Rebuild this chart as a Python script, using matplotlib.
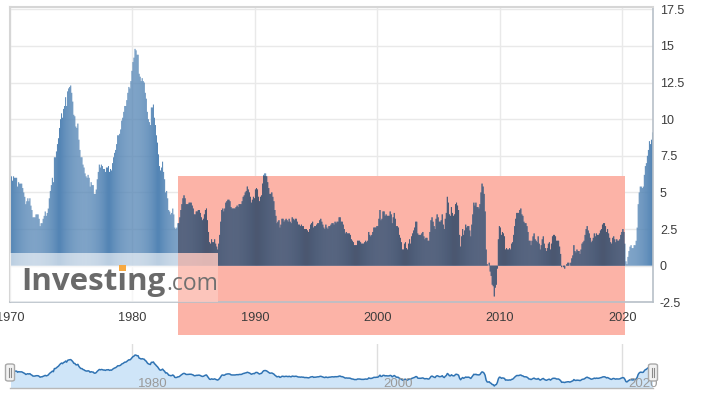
import matplotlib
matplotlib.use("Agg")
import matplotlib.pyplot as plt
import numpy as np
from matplotlib.patches import Rectangle, FancyBboxPatch
import matplotlib.transforms as mtransforms

# ---------------- data: US CPI, year-over-year %, monthly from Jan 1970 ----------------
start_year = 1970
cpi_yoy = [
    6.2, 6.1, 5.8, 6.1, 6.0, 6.0, 6.0, 5.4, 5.7, 5.6, 5.6, 5.6,   # 1970
    5.3, 5.0, 4.7, 4.2, 4.4, 4.6, 4.4, 4.6, 4.1, 3.8, 3.3, 3.3,   # 1971
    3.3, 3.5, 3.5, 3.5, 3.2, 2.7, 2.9, 2.9, 3.2, 3.4, 3.7, 3.4,   # 1972
    3.6, 3.9, 4.6, 5.1, 5.5, 6.0, 5.7, 7.4, 7.4, 7.8, 8.3, 8.7,   # 1973
    9.4, 10.0, 10.4, 10.1, 10.7, 10.9, 11.5, 10.9, 11.9, 12.1, 12.2, 12.3,  # 1974
    11.8, 11.2, 10.3, 10.2, 9.5, 9.4, 9.7, 8.6, 7.9, 7.4, 7.4, 6.9,  # 1975
    6.7, 6.3, 6.1, 6.0, 6.2, 6.0, 5.4, 5.7, 5.5, 5.5, 4.9, 4.9,   # 1976
    5.2, 5.9, 6.4, 6.9, 6.7, 6.9, 6.8, 6.6, 6.6, 6.4, 6.7, 6.7,   # 1977
    6.8, 6.4, 6.6, 6.5, 7.0, 7.4, 7.7, 7.9, 8.3, 8.9, 8.9, 9.0,   # 1978
    9.3, 9.9, 10.1, 10.5, 10.9, 10.9, 11.3, 11.8, 12.2, 12.1, 12.6, 13.3,  # 1979
    13.9, 14.2, 14.8, 14.7, 14.4, 14.4, 13.1, 12.9, 12.6, 12.8, 12.6, 12.5,  # 1980
    11.8, 11.4, 10.5, 10.0, 9.8, 9.6, 10.8, 10.8, 11.0, 10.1, 9.6, 8.9,  # 1981
    8.4, 7.6, 6.8, 6.5, 6.7, 7.1, 6.4, 5.9, 5.0, 5.1, 4.6, 3.8,   # 1982
    3.7, 3.5, 3.6, 3.9, 3.5, 2.6, 2.5, 2.6, 2.9, 2.9, 3.3, 3.8,   # 1983
    4.2, 4.6, 4.8, 4.6, 4.2, 4.2, 4.2, 4.3, 4.3, 4.3, 4.1, 3.9,   # 1984
    3.5, 3.5, 3.7, 3.7, 3.8, 3.8, 3.6, 3.3, 3.1, 3.2, 3.5, 3.8,   # 1985
    3.9, 3.1, 2.3, 1.6, 1.5, 1.8, 1.6, 1.6, 1.8, 1.5, 1.3, 1.1,   # 1986
    1.5, 2.1, 3.0, 3.8, 3.9, 3.7, 3.9, 4.3, 4.4, 4.5, 4.5, 4.4,   # 1987
    4.0, 3.9, 3.9, 3.9, 3.9, 4.0, 4.1, 4.0, 4.2, 4.2, 4.2, 4.4,   # 1988
    4.7, 4.8, 5.0, 5.1, 5.4, 5.2, 5.0, 4.7, 4.3, 4.5, 4.7, 4.6,   # 1989
    5.2, 5.3, 5.2, 4.7, 4.4, 4.7, 4.8, 5.6, 6.2, 6.3, 6.3, 6.1,   # 1990
    5.7, 5.3, 4.9, 4.9, 5.0, 4.7, 4.4, 3.8, 3.4, 2.9, 3.0, 3.1,   # 1991
    2.6, 2.8, 3.2, 3.2, 3.0, 3.1, 3.2, 3.1, 3.0, 3.2, 3.0, 2.9,   # 1992
    3.3, 3.2, 3.1, 3.2, 3.2, 3.0, 2.8, 2.8, 2.7, 2.8, 2.7, 2.7,   # 1993
    2.5, 2.5, 2.5, 2.4, 2.3, 2.5, 2.8, 2.9, 3.0, 2.6, 2.7, 2.7,   # 1994
    2.8, 2.9, 2.9, 3.1, 3.2, 3.0, 2.8, 2.6, 2.5, 2.8, 2.6, 2.5,   # 1995
    2.7, 2.7, 2.8, 2.9, 2.9, 2.8, 3.0, 2.9, 3.0, 3.0, 3.3, 3.3,   # 1996
    3.0, 3.0, 2.8, 2.5, 2.2, 2.3, 2.2, 2.2, 2.2, 2.1, 1.8, 1.7,   # 1997
    1.6, 1.4, 1.4, 1.4, 1.7, 1.7, 1.7, 1.6, 1.5, 1.5, 1.5, 1.6,   # 1998
    1.7, 1.6, 1.7, 2.3, 2.1, 2.0, 2.1, 2.3, 2.6, 2.6, 2.6, 2.7,   # 1999
    2.7, 3.2, 3.8, 3.1, 3.2, 3.7, 3.7, 3.4, 3.5, 3.4, 3.4, 3.4,   # 2000
    3.7, 3.5, 2.9, 3.3, 3.6, 3.2, 2.7, 2.7, 2.6, 2.1, 1.9, 1.6,   # 2001
    1.1, 1.1, 1.5, 1.6, 1.2, 1.1, 1.5, 1.8, 1.5, 2.0, 2.2, 2.4,   # 2002
    2.6, 3.0, 3.0, 2.2, 2.1, 2.1, 2.1, 2.2, 2.3, 2.0, 1.8, 1.9,   # 2003
    1.9, 1.7, 1.7, 2.3, 3.1, 3.3, 3.0, 2.7, 2.5, 3.2, 3.5, 3.3,   # 2004
    3.0, 3.0, 3.1, 3.5, 2.8, 2.5, 3.2, 3.6, 4.7, 4.3, 3.5, 3.4,   # 2005
    4.0, 3.6, 3.4, 3.5, 4.2, 4.3, 4.1, 3.8, 2.1, 1.3, 2.0, 2.5,   # 2006
    2.1, 2.4, 2.8, 2.6, 2.7, 2.7, 2.4, 2.0, 2.8, 3.5, 4.3, 4.1,   # 2007
    4.3, 4.0, 4.0, 3.9, 4.2, 5.0, 5.6, 5.4, 4.9, 3.7, 1.1, 0.1,   # 2008
    0.0, 0.2, -0.4, -0.7, -1.3, -1.4, -2.1, -1.5, -1.3, -0.2, 1.8, 2.7,  # 2009
    2.6, 2.1, 2.3, 2.2, 2.0, 1.1, 1.2, 1.1, 1.1, 1.2, 1.1, 1.5,   # 2010
    1.6, 2.1, 2.7, 3.2, 3.6, 3.6, 3.6, 3.8, 3.9, 3.5, 3.4, 3.0,   # 2011
    2.9, 2.9, 2.7, 2.3, 1.7, 1.7, 1.4, 1.7, 2.0, 2.2, 1.8, 1.7,   # 2012
    1.6, 2.0, 1.5, 1.1, 1.4, 1.8, 2.0, 1.5, 1.2, 1.0, 1.2, 1.5,   # 2013
    1.6, 1.1, 1.5, 2.0, 2.1, 2.1, 2.0, 1.7, 1.7, 1.7, 1.3, 0.8,   # 2014
    -0.1, 0.0, -0.1, -0.2, 0.0, 0.1, 0.2, 0.2, 0.0, 0.2, 0.5, 0.7,  # 2015
    1.4, 1.0, 0.9, 1.1, 1.0, 1.0, 0.8, 1.1, 1.5, 1.6, 1.7, 2.1,   # 2016
    2.5, 2.7, 2.4, 2.2, 1.9, 1.6, 1.7, 1.9, 2.2, 2.0, 2.2, 2.1,   # 2017
    2.1, 2.2, 2.4, 2.5, 2.8, 2.9, 2.9, 2.7, 2.3, 2.5, 2.2, 1.9,   # 2018
    1.6, 1.5, 1.9, 2.0, 1.8, 1.6, 1.8, 1.7, 1.7, 1.8, 2.1, 2.3,   # 2019
    2.5, 2.3, 1.5, 0.3, 0.1, 0.6, 1.0, 1.3, 1.4, 1.2, 1.2, 1.4,   # 2020
    1.4, 1.7, 2.6, 4.2, 5.0, 5.4, 5.4, 5.3, 5.4, 6.2, 6.8, 7.0,   # 2021
    7.5, 7.9, 8.5, 8.3, 8.6, 9.1,                                 # 2022
]
y_ticks = [-2.5, 0, 2.5, 5, 7.5, 10, 12.5, 15, 17.5]
y_tick_labels = ["-2.5", "0", "2.5", "5", "7.5", "10", "12.5", "15", "17.5"]
x_ticks = [1970, 1980, 1990, 2000, 2010, 2020]
x_tick_labels = ["1970", "1980", "1990", "2000", "2010", "2020"]
nav_ticks = [1980, 2000, 2020]
nav_tick_labels = ["1980", "2000", "2020"]
highlight_span = (1983.70, 2020.24)   # shaded box, years
highlight_top = 6.15

# ---------------- styling ----------------
W, H = 704, 396
BLUE = "#5485b5"
SALMON = np.array([252, 179, 167]) / 255.0
blue_rgb = np.array(matplotlib.colors.to_rgb("#4c7cab"))
DARK = tuple(blue_rgb * SALMON)          # multiply-blend of bar and salmon box
GRID = "#e9e9e9"
TXT = "#3c3c3c"
FONT = "Liberation Sans"


def fx(px):
    return px / W


def fy(py):
    return 1 - py / H


fig = plt.figure(figsize=(W / 100, H / 100), dpi=100)
fig.patch.set_facecolor("white")

# ---------------- main axes ----------------
top_px, bot_px, left_px, right_px = 7.1, 302.3, 10, 653
ax = fig.add_axes([fx(left_px), fy(bot_px), (right_px - left_px) / W, (bot_px - top_px) / H])
x = start_year + np.arange(len(cpi_yoy)) / 12.0
x_end = start_year + len(cpi_yoy) / 12.0
ax.set_xlim(start_year, x_end)
ax.set_ylim(-2.5, 17.65)

ax.set_yticks(y_ticks)
ax.set_yticklabels(y_tick_labels)
ax.set_xticks(x_ticks)
ax.set_xticklabels([])
ax.yaxis.tick_right()
ax.tick_params(axis="y", length=0, pad=5, labelsize=9, labelcolor=TXT)
ax.tick_params(axis="x", length=0)
for lab in ax.get_yticklabels():
    lab.set_fontfamily(FONT)
ax.grid(True, color=GRID, linewidth=1, zorder=0)
ax.set_axisbelow(True)
for side in ["left", "top"]:
    ax.spines[side].set_color("#d6d6d6")
    ax.spines[side].set_linewidth(1.5)
for side in ["right", "bottom"]:
    ax.spines[side].set_color("#b8c0c8")
    ax.spines[side].set_linewidth(1.2)

# x tick labels drawn as texts so they sit above the salmon box
xlab_tr = mtransforms.blended_transform_factory(ax.transData, fig.transFigure)
for t, lab in zip(x_ticks, x_tick_labels):
    ax.text(t, fy(318), lab, transform=xlab_tr, ha="center", va="center",
            fontsize=9.2, color=TXT, family=FONT, zorder=12, clip_on=False)

# salmon highlight box (behind bars, extends below the axes)
box_bottom = -4.72
hl = Rectangle((highlight_span[0], box_bottom), highlight_span[1] - highlight_span[0],
               highlight_top - box_bottom, facecolor=tuple(SALMON), edgecolor="none",
               zorder=1, clip_on=False)
ax.add_patch(hl)

ax.bar(x, cpi_yoy, width=1 / 12.0, align="edge", color=BLUE, linewidth=0,
       zorder=2, snap=False)
# bars inside the box, drawn in the multiplied colour
clip_rect = Rectangle((highlight_span[0], box_bottom), highlight_span[1] - highlight_span[0],
                      highlight_top - box_bottom, transform=ax.transData,
                      facecolor="none", edgecolor="none")
dark_bars = ax.bar(x, cpi_yoy, width=1 / 12.0, align="edge", color=DARK, linewidth=0,
                   zorder=2.5, snap=False)
for b in dark_bars:
    b.set_clip_path(clip_rect)

# watermark panel
wm_top = 0.87
wm_right = 1986.97
ax.add_patch(Rectangle((start_year, -2.5), highlight_span[0] - start_year, wm_top + 2.5,
                       facecolor="white", alpha=0.6, edgecolor="none", zorder=3))
ax.add_patch(Rectangle((highlight_span[0], -2.5), wm_right - highlight_span[0], wm_top + 2.5,
                       facecolor="white", alpha=0.6, edgecolor="none", zorder=3))
ax.add_patch(Rectangle((highlight_span[0], -2.5), wm_right - highlight_span[0], wm_top + 2.5,
                       facecolor=tuple(SALMON), alpha=0.6, edgecolor="none", zorder=3.1))

WM_SIZE = 22.5
t1 = fig.text(fx(21), fy(290), "Investing", fontsize=WM_SIZE, fontweight="bold",
              family="Open Sans", color="#6a6a6a", va="baseline", ha="left", zorder=10)
fig.canvas.draw()
r = fig.canvas.get_renderer()
bb = t1.get_window_extent(r)
t2 = fig.text(bb.x1 / W + 0.001, fy(290), ".com", fontsize=16.5, family="Open Sans",
              color="#707070", va="baseline", ha="left", zorder=10)
# orange dot over the second "i"
tmp = fig.text(fx(21), fy(290), "Invest", fontsize=WM_SIZE, fontweight="bold",
               family="Open Sans", va="baseline", ha="left")
bbi = tmp.get_window_extent(r)
tmp.remove()
tmp2 = fig.text(fx(21), fy(290), "Investi", fontsize=WM_SIZE, fontweight="bold",
                family="Open Sans", va="baseline", ha="left")
bbi2 = tmp2.get_window_extent(r)
tmp2.remove()
icx = (bbi.x1 + bbi2.x1) / 2.0
fig.patches.append(Rectangle((fx(icx - 3.5), fy(271)), 7 / W, 6.5 / H,
                             transform=fig.transFigure, facecolor="#f7a941",
                             edgecolor="none", zorder=11))

# ---------------- navigator ----------------
nav_top, nav_bot = 344, 388
nav = fig.add_axes([fx(left_px), fy(nav_bot), (right_px - left_px) / W, (nav_bot - nav_top) / H])
nav.set_xlim(start_year, x_end)
nav.set_ylim(-3.2, 20.8)
xm = x + 1 / 24.0
nav.fill_between(xm, cpi_yoy, -3.2, color="#cfe5f8", linewidth=0, zorder=1)
nav.plot(xm, cpi_yoy, color="#2f73b3", linewidth=1.1, zorder=2)
for t, lab in zip(nav_ticks, nav_tick_labels):
    nav.axvline(t, color="#dedede", linewidth=1, zorder=0.5)
    nav.text(t + 0.45, -1.2, lab, fontsize=9.5, color="#9a9a9a", family=FONT,
             ha="left", va="center", zorder=3)
nav.set_xticks([])
nav.set_yticks([])
for side in ["left", "top", "right"]:
    nav.spines[side].set_visible(False)
nav.spines["bottom"].set_color("#b8b8b8")
nav.spines["bottom"].set_linewidth(1.0)
nav.patch.set_alpha(0)

for hx in (left_px, right_px):
    hb = FancyBboxPatch((fx(hx - 4.5), fy(381)), 9 / W, 17 / H,
                        boxstyle="round,pad=0,rounding_size=0.004",
                        transform=fig.transFigure, facecolor="#f2f2f2",
                        edgecolor="#a9a9a9", linewidth=1, zorder=20)
    fig.patches.append(hb)
    for dx in (-1.5, 0.5):
        fig.lines.append(plt.Line2D([fx(hx + dx), fx(hx + dx)], [fy(377), fy(368)],
                                    transform=fig.transFigure, color="#8a8a8a",
                                    linewidth=0.8, zorder=21))

fig.savefig("out.png", dpi=100, facecolor="white")
